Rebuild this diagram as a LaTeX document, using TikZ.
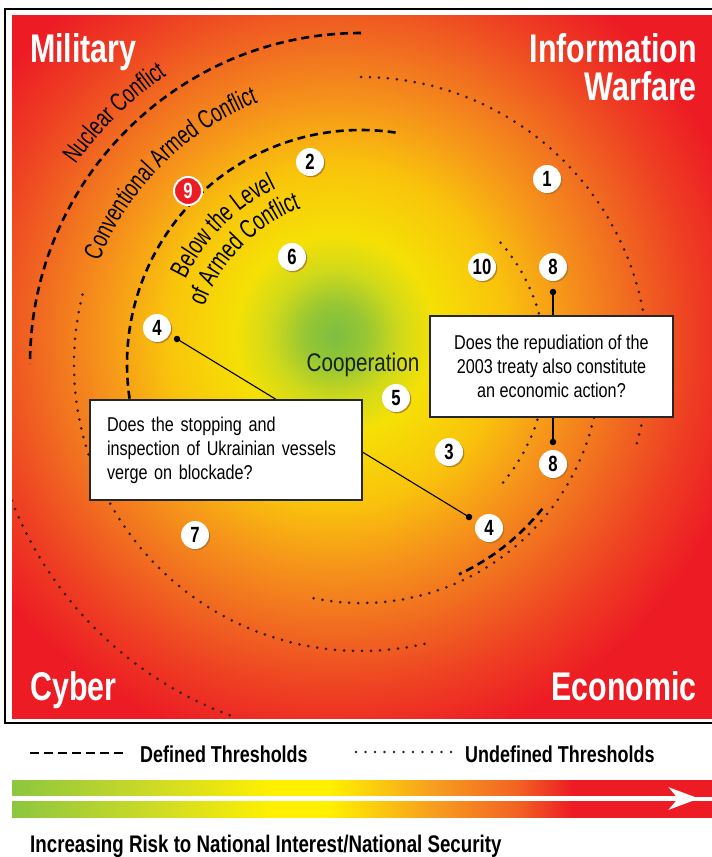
\documentclass[tikz,border=0pt]{standalone}
\usepackage{fontspec}
\setmainfont{Liberation Sans}
\newfontfamily\condr[FakeStretch=0.81]{Liberation Sans}
\newfontfamily\condl[FakeStretch=0.70]{Liberation Sans}
\newfontfamily\condb[FakeStretch=0.76]{Liberation Sans Bold}
\newfontfamily\condbw[FakeStretch=0.78]{Liberation Sans Bold}
\usetikzlibrary{decorations.text,shadows,arrows.meta}
\definecolor{cRed}{RGB}{237,28,36}
\definecolor{g0}{RGB}{125,190,65}
\definecolor{g1}{RGB}{150,198,52}
\definecolor{g2}{RGB}{210,218,25}
\definecolor{g3}{RGB}{245,224,5}
\definecolor{g4}{RGB}{249,195,12}
\definecolor{g5}{RGB}{246,150,26}
\definecolor{g6}{RGB}{241,110,32}
\definecolor{g7}{RGB}{238,62,35}
\definecolor{h0}{RGB}{141,198,63}
\definecolor{h1}{RGB}{205,218,38}
\definecolor{h2}{RGB}{255,240,0}
\definecolor{h3}{RGB}{247,160,30}
\definecolor{h4}{RGB}{242,100,35}
\definecolor{dotc}{RGB}{55,30,20}
\definecolor{shadc}{RGB}{175,115,35}
\definecolor{coopc}{RGB}{20,35,20}
\pgfdeclareradialshading{bgshade}{\pgfpointorigin}{color(0bp)=(g0); color(1.5bp)=(g1); color(3.3bp)=(g2); color(5bp)=(g3); color(8.5bp)=(g4); color(11.5bp)=(g5); color(14.5bp)=(g6); color(18bp)=(g7); color(21bp)=(cRed); color(50bp)=(cRed)}
\pgfdeclarehorizontalshading{barshade}{100bp}{color(0bp)=(h0); color(25bp)=(h0); color(35bp)=(h1); color(43.6bp)=(h2); color(47.7bp)=(h2); color(54.9bp)=(h3); color(61bp)=(h4); color(65bp)=(cRed); color(75bp)=(cRed); color(100bp)=(cRed)}
\newcommand\lblfont{\condl\fontsize{26}{26}\selectfont}
\newcommand\belowfont{\condl\fontsize{26.5}{26.5}\selectfont}
\begin{document}
\begin{tikzpicture}[x=1pt,y=-1pt,
  head/.style={text=white, inner sep=0pt, font=\condb\fontsize{40}{40}\selectfont},
  defth/.style={line width=2.6pt, dash pattern=on 8pt off 5pt},
  undefth/.style={dotc, line width=3pt, line cap=round, dash pattern=on 0pt off 9pt},
  numc/.style={circle, fill=white, minimum size=28pt, inner sep=0pt,
    font=\condb\fontsize{22}{22}\selectfont,
    drop shadow={shadow xshift=1.3pt, shadow yshift=-1.3pt, fill=shadc, opacity=0.8}},
  redc/.style={circle, fill=cRed, draw=white, line width=2pt, minimum size=28pt, inner sep=0pt,
    text=white, font=\condb\fontsize{22}{22}\selectfont},
  enddot/.style={circle, fill=black, minimum size=6.5pt, inner sep=0pt},
  callout/.style={draw=black!85, line width=1.3pt, fill=white, inner sep=0pt,
    font=\condr\fontsize{20}{24}\selectfont},
  legtxt/.style={inner sep=0pt, font=\condbw\fontsize{23}{23}\selectfont}
]
\useasboundingbox (0,0) rectangle (712,857);
% outer frame
\draw[line width=2pt] (712,9) -- (5,9) -- (5,723) -- (712,723);
\coordinate (C) at (361,364);
\begin{scope}
  \clip (12,15) rectangle (712,718);
  \shade[shading=bgshade] (-165,-165) rectangle (835,835);
  % defined thresholds
  \draw[defth] (C) ++(-90:331) arc[start angle=-90, end angle=-180, radius=331];
  \draw[defth] (C) ++(-81.5:234) arc[start angle=-81.5, end angle=-195, radius=234];
  \draw[defth] (C) ++(38.6:232) arc[start angle=38.6, end angle=65, radius=232];
  % undefined thresholds
  \draw[undefth] (C) ++(-90:287) arc[start angle=-90, end angle=17.7, radius=287];
  \draw[undefth] (C) ++(-166:287) arc[start angle=-166, end angle=-283.5, radius=287];
  \draw[undefth] (C) ++(-41:185) arc[start angle=-41, end angle=41, radius=185];
  \draw[undefth] (C) ++(13:239) arc[start angle=13, end angle=103, radius=239];
  \draw[undefth] (C) ++(-200:375) arc[start angle=-200, end angle=-250, radius=375];
\end{scope}
% arc labels
\path[decorate, decoration={text along path, text align=center, text={|\lblfont|Nuclear Conflict}}]
  (C) ++(-170:348) arc[start angle=-170, end angle=-99, radius=348];
\path[decorate, decoration={text along path, text align=center, text={|\lblfont|Conventional Armed Conflict}}]
  (C) ++(-180:281) arc[start angle=-180, end angle=-90, radius=281];
\path[decorate, decoration={text along path, text align=center, text={|\belowfont|Below the Level}}]
  (C) ++(-180:195) arc[start angle=-180, end angle=-90, radius=195];
\path[decorate, decoration={text along path, text align=center, text={|\belowfont|of Armed Conflict}}]
  (C) ++(-181:167) arc[start angle=-181, end angle=-90, radius=167];
% headings
\node[head, anchor=base west] (mil) at (30,62) {Military};
\node[head, anchor=base east] (inf1) at (697,62) {Information};
\node[head, anchor=base east] (inf2) at (697,100) {Warfare};
\node[head, anchor=base west] (cyb) at (30,700) {Cyber};
\node[head, anchor=base east] (eco) at (697,700) {Economic};
% cooperation
\node[inner sep=0pt, text=coopc, font=\condr\fontsize{25.5}{25.5}\selectfont] (coop) at (363,365) {Cooperation};
% connectors
\node[enddot] (d4a) at (177,339) {};
\node[enddot] (d4b) at (469,517) {};
\node[enddot] (d8a) at (553,292) {};
\node[enddot] (d8b) at (553,442) {};
\draw[line width=1.1pt] (d4a.center) -- (d4b.center);
\draw[line width=1.1pt] (d8a.center) -- (d8b.center);
% callout boxes
\node[callout, minimum width=272pt, minimum height=100pt, text width=238pt, align=left] (b1) at (226,450)
  {Does the stopping and\\inspection of Ukrainian vessels\\verge on blockade?};
\node[callout, minimum width=243pt, minimum height=101pt, align=center] (b2) at (551.5,366.5)
  {Does the repudiation of the\\2003 treaty also constitute\\an economic action?};
% numbered circles
\node[numc] (n1) at (547,179) {1};
\node[numc] (n2) at (310,162) {2};
\node[numc] (n3) at (449,452) {3};
\node[numc] (n4a) at (157,328) {4};
\node[numc] (n4b) at (489,528) {4};
\node[numc] (n5) at (396,398) {5};
\node[numc] (n6) at (292,257) {6};
\node[numc] (n7) at (195,535) {7};
\node[numc] (n8a) at (553,267) {8};
\node[numc] (n8b) at (553,464) {8};
\node[redc] (n9) at (188,191) {9};
\node[numc] (n10) at (482,267) {10};
% legend
\coordinate (la1) at (30,753);
\coordinate (la2) at (126,753);
\draw[line width=2.6pt, dash pattern=on 9pt off 5pt] (la1) -- (la2);
\node[legtxt, anchor=base west] (lt1) at (140,762) {Defined Thresholds};
\coordinate (lb1) at (356,752);
\coordinate (lb2) at (452,752);
\draw[dotc, line width=2.6pt, line cap=round, dash pattern=on 0pt off 9.5pt] (lb1) -- (lb2);
\node[legtxt, anchor=base west] (lt2) at (465,762) {Undefined Thresholds};
% risk bar
\shade[shading=barshade] (12,780) rectangle (712,796);
\shade[shading=barshade] (12,801) rectangle (712,817);
\coordinate (ar1) at (12,798.5);
\coordinate (ar2) at (699,798.5);
\draw[white, line width=5pt, -{Stealth[length=30pt, width=22pt, inset=9pt]}] (ar1) -- (ar2);
\node[inner sep=0pt, anchor=base west, font=\condbw\fontsize{24}{24}\selectfont] (risk) at (30,852)
  {Increasing Risk to National Interest/National Security};
\end{tikzpicture}
\end{document}
